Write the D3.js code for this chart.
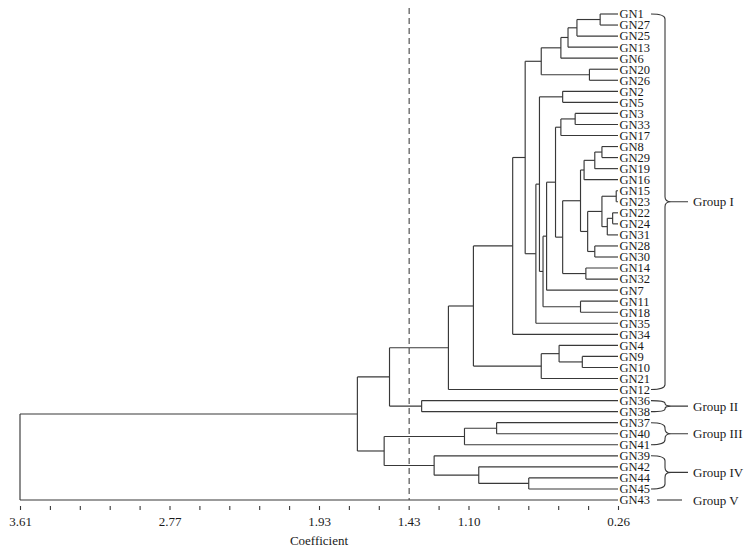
<!DOCTYPE html>
<html>
<head>
<meta charset="utf-8">
<script src="https://cdn.jsdelivr.net/npm/d3@7"></script>
<style>
  html, body { margin: 0; padding: 0; background: #fff; }
  svg { display: block; }
  text { font-family: "Liberation Serif", "Times New Roman", serif; fill: #1a1a1a; }
</style>
</head>
<body>
<svg id="chart" width="752" height="553"></svg>
<script>
// ---- data ----
const leaves = ["GN1","GN27","GN25","GN13","GN6","GN20","GN26","GN2","GN5","GN3","GN33","GN17",
  "GN8","GN29","GN19","GN16","GN15","GN23","GN22","GN24","GN31","GN28","GN30","GN14","GN32",
  "GN7","GN11","GN18","GN35","GN34","GN4","GN9","GN10","GN21","GN12","GN36","GN38","GN37",
  "GN40","GN41","GN39","GN42","GN44","GN45","GN43"];

// merges: [id, childA, childB, coefficient]
const merges = [
  ["n1","GN1","GN27",0.36],
  ["n2","n1","GN25",0.49],
  ["n3","n2","GN13",0.54],
  ["n4","n3","GN6",0.58],
  ["n5","GN20","GN26",0.42],
  ["n6","n4","n5",0.69],
  ["n7","GN2","GN5",0.57],
  ["n8","GN3","GN33",0.50],
  ["n9","n8","GN17",0.58],
  ["n10","GN8","GN29",0.35],
  ["n11","n10","GN19",0.39],
  ["n12","n11","GN16",0.45],
  ["n13","GN15","GN23",0.27],
  ["n14","GN22","GN24",0.29],
  ["n15","n14","GN31",0.32],
  ["n16","n13","n15",0.35],
  ["n17","GN28","GN30",0.39],
  ["n18","n16","n17",0.43],
  ["n19","n12","n18",0.47],
  ["n20","GN14","GN32",0.44],
  ["n21","n19","n20",0.57],
  ["n22","n9","n21",0.61],
  ["n23","n22","GN7",0.66],
  ["n24","GN11","GN18",0.47],
  ["n25","n23","n24",0.68],
  ["n26","n7","n25",0.70],
  ["n27","n26","GN35",0.72],
  ["n28","n6","n27",0.78],
  ["n29","n28","GN34",0.85],
  ["n30","GN9","GN10",0.46],
  ["n31","GN4","n30",0.59],
  ["n32","n31","GN21",0.69],
  ["n33","n29","n32",1.07],
  ["n34","n33","GN12",1.21],
  ["n35","GN36","GN38",1.36],
  ["n36","n34","n35",1.54],
  ["n37","GN37","GN40",0.94],
  ["n38","n37","GN41",1.12],
  ["n39","GN44","GN45",0.76],
  ["n40","GN42","n39",1.04],
  ["n41","GN39","n40",1.29],
  ["n42","n38","n41",1.57],
  ["n43","n36","n42",1.72],
  ["root","n43","GN43",3.61]
];

const leafCoef = 0.26;
const axisDomain = [3.61, 0.26];
const tickCount = 20;
const labeledTicks = [3.61, 2.77, 1.93, 1.43, 1.10, 0.26];
const labeledTickText = ["3.61", "2.77", "1.93", "1.43", "1.10", "0.26"];
const cutLine = 1.43;
const axisTitle = "Coefficient";

const groups = [
  { name: "Group I",   first: "GN1",  last: "GN12" },
  { name: "Group II",  first: "GN36", last: "GN38" },
  { name: "Group III", first: "GN37", last: "GN41" },
  { name: "Group IV",  first: "GN39", last: "GN45" },
  { name: "Group V",   first: "GN43", last: "GN43" }
];

// ---- build tree ----
const nodes = {};
leaves.forEach(n => nodes[n] = { id: n, height: leafCoef, children: null });
merges.forEach(([id, a, b, h]) => nodes[id] = { id, height: h, children: [nodes[a], nodes[b]] });
const root = d3.hierarchy(nodes["root"], d => d.children);

// ---- scales ----
const svg = d3.select("#chart");
const x = d3.scaleLinear().domain(axisDomain).range([20, 618]);
const y = d3.scalePoint().domain(leaves).range([14, 500]);

root.eachAfter(n => {
  n.px = x(n.data.height);
  if (!n.children) n.py = y(n.data.id);
  else n.py = (n.children[0].py + n.children[n.children.length - 1].py) / 2;
});

const lineColor = "#383838";
const g = svg.append("g").attr("fill", "none").attr("stroke", lineColor).attr("stroke-width", 1.15);

root.each(n => {
  if (!n.children) return;
  const ys = n.children.map(c => c.py);
  g.append("line").attr("x1", n.px).attr("x2", n.px)
    .attr("y1", d3.min(ys)).attr("y2", d3.max(ys));
  n.children.forEach(c => {
    g.append("line").attr("x1", n.px).attr("x2", c.px).attr("y1", c.py).attr("y2", c.py);
  });
});

// dashed cut line
svg.append("line")
  .attr("x1", x(cutLine)).attr("x2", x(cutLine))
  .attr("y1", 8).attr("y2", y("GN43"))
  .attr("stroke", "#444").attr("stroke-width", 1.1)
  .attr("stroke-dasharray", "6,4");

// leaf labels
svg.append("g").selectAll("text").data(leaves).join("text")
  .attr("x", x(leafCoef) + 1.5)
  .attr("y", d => y(d))
  .attr("dy", "0.35em")
  .attr("font-size", 12.5)
  .text(d => d);

// axis
const tickVals = d3.range(tickCount + 1).map(i => axisDomain[0] - i * (axisDomain[0] - axisDomain[1]) / tickCount);
const axis = d3.axisBottom(x)
  .tickValues(tickVals)
  .tickSize(4)
  .tickPadding(7)
  .tickFormat(v => {
    const i = labeledTicks.findIndex(t => Math.abs(t - v) < 0.01);
    return i >= 0 ? labeledTickText[i] : "";
  });
const ag = svg.append("g").attr("transform", "translate(0,506)").call(axis);
ag.select(".domain").remove();
ag.selectAll(".tick line").attr("stroke", lineColor).attr("stroke-width", 1.1);
ag.selectAll(".tick text").attr("font-size", 13)
  .attr("font-family", "Liberation Serif, Times New Roman, serif").attr("fill", "#1a1a1a");

svg.append("text")
  .attr("x", (x.range()[0] + x.range()[1]) / 2)
  .attr("y", 545)
  .attr("text-anchor", "middle")
  .attr("font-size", 13)
  .text(axisTitle);

// group braces
const hx = 651, vx = 665, r = 5, tipEnd = 688;
const bg = svg.append("g").attr("fill", "none").attr("stroke", lineColor).attr("stroke-width", 1.1);
groups.forEach(gr => {
  const y0 = y(gr.first), y1 = y(gr.last);
  const ym = (y0 + y1) / 2;
  if (gr.first === gr.last) {
    bg.append("line").attr("x1", 657).attr("x2", 682).attr("y1", ym).attr("y2", ym);
  } else {
    const rr = Math.min(r, (y1 - y0) / 4);
    const p = d3.path();
    p.moveTo(hx, y0);
    p.quadraticCurveTo(vx, y0, vx, y0 + rr);
    p.lineTo(vx, ym - rr);
    p.quadraticCurveTo(vx, ym, vx + 6, ym);
    p.moveTo(hx, y1);
    p.quadraticCurveTo(vx, y1, vx, y1 - rr);
    p.lineTo(vx, ym + rr);
    p.quadraticCurveTo(vx, ym, vx + 6, ym);
    p.lineTo(tipEnd, ym);
    bg.append("path").attr("d", p.toString());
  }
  svg.append("text")
    .attr("x", 693)
    .attr("y", ym)
    .attr("dy", "0.35em")
    .attr("font-size", 13)
    .text(gr.name);
});
</script>
</body>
</html>
